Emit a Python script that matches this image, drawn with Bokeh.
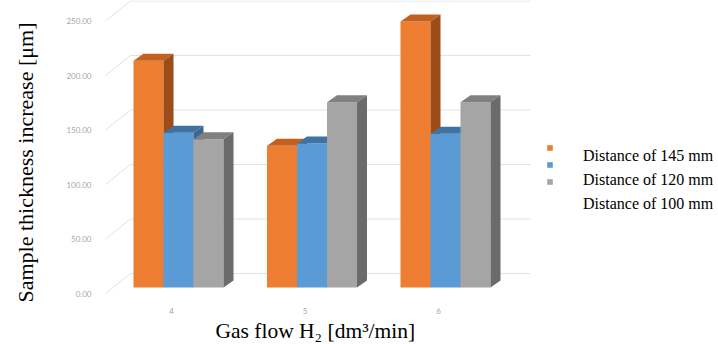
import math
from bokeh.plotting import figure
from bokeh.models import (Range1d, LinearAxis, FixedTicker, PrintfTickFormatter,
                          Legend, LegendItem, Title)
from bokeh.embed import file_html
from bokeh.resources import INLINE

# ---- data ----
categories = [4, 5, 6]
series_names = ["Distance of 145 mm", "Distance of 120 mm", "Distance of 100 mm"]
d145 = [208, 130, 244]
d120 = [142, 132, 141]
d100 = [136, 170, 170]
y_ticks = [0, 50, 100, 150, 200, 250]
series_values = [d145, d120, d100]

# ---- styling ----
front_colors = ["#ED7D31", "#5B9BD5", "#A5A5A5"]
top_colors = ["#C2611F", "#3F73A3", "#808080"]
side_colors = ["#9C4C16", "#3A6891", "#6B6B6B"]

W, H = 718, 344
LEFT, BOTTOM = 100, 48
FW, FH = W - LEFT, H - BOTTOM
PXX = 133.5   # px per category unit
PXY = 1.09    # px per value unit

x0 = 4 - 78 / PXX
y0 = -9 / PXY
p = figure(width=W, height=H, output_backend="svg", toolbar_location=None,
           x_range=Range1d(x0, x0 + FW / PXX), y_range=Range1d(y0, y0 + FH / PXY),
           x_axis_location=None, y_axis_location=None,
           min_border_left=LEFT, min_border_right=0, min_border_top=0,
           min_border_bottom=BOTTOM)
p.outline_line_color = None
p.grid.visible = False

ax0 = 4 - 71 / PXX
ay0 = -3 / PXY
p.extra_x_ranges = {"ax": Range1d(ax0, ax0 + FW / PXX)}
p.extra_y_ranges = {"ax": Range1d(ay0, ay0 + FH / PXY)}

# gridlines (slanted side wall + back wall)
rise = 20 / PXY
xa, xb, xc = x0 + 5 / PXX, x0 + 30 / PXX, x0 + 430 / PXX
p.segment(x0=[xa] * len(y_ticks), y0=y_ticks, x1=[xb] * len(y_ticks),
          y1=[t + rise for t in y_ticks], y_range_name="ax",
          line_color="#e2e2e2", line_width=1)
p.segment(x0=[xb] * len(y_ticks), y0=[t + rise for t in y_ticks],
          x1=[xc] * len(y_ticks), y1=[t + rise for t in y_ticks], y_range_name="ax",
          line_color="#e2e2e2", line_width=1)

# 3D bars
bw = 30 / PXX
dx = 10 / PXX
dy = 7 / PXY
offsets = [-bw, 0, bw]
fronts = []
for i, vals in enumerate(series_values):
    xcs = [c + offsets[i] for c in categories]
    r = p.vbar(x=xcs, top=vals, bottom=0, width=bw,
               fill_color=front_colors[i], line_color=None)
    fronts.append(r)
    txs = [[x - bw / 2, x + bw / 2, x + bw / 2 + dx, x - bw / 2 + dx] for x in xcs]
    tys = [[v, v, v + dy, v + dy] for v in vals]
    p.patches(xs=txs, ys=tys, fill_color=top_colors[i], line_color=None)
    sxs = [[x + bw / 2, x + bw / 2 + dx, x + bw / 2 + dx, x + bw / 2] for x in xcs]
    sys_ = [[0, dy, v + dy, v] for v in vals]
    p.patches(xs=sxs, ys=sys_, fill_color=side_colors[i], line_color=None)

# axes
yaxis = LinearAxis(y_range_name="ax", ticker=FixedTicker(ticks=y_ticks),
                   formatter=PrintfTickFormatter(format="%.2f"),
                   axis_line_color=None, major_tick_line_color=None,
                   minor_tick_line_color=None, major_label_text_font_size="8px",
                   major_label_text_color="#a6a6a6", major_label_text_font="Lato",
                   major_label_standoff=3, axis_label=" ",
                   axis_label_text_font_size="1px", axis_label_standoff=14)
p.add_layout(yaxis, "left")
xaxis = LinearAxis(x_range_name="ax", ticker=FixedTicker(ticks=categories),
                   axis_line_color=None, major_tick_line_color=None,
                   minor_tick_line_color=None, major_label_text_font_size="8px",
                   major_label_text_color="#a6a6a6", major_label_text_font="Lato",
                   major_label_standoff=5)
p.add_layout(xaxis, "below")

# axis titles
p.add_layout(Title(text="Sample thickness increase [μm]", align="left",
                   offset=-6, standoff=15, text_font="Liberation Serif",
                   text_font_size="22px", text_font_style="normal",
                   text_color="#000000"), "left")
p.add_layout(Title(text="Gas flow H₂ [dm³/min]", align="left",
                   offset=115, standoff=0, text_font="Liberation Serif",
                   text_font_size="21.5px", text_font_style="normal",
                   text_color="#000000"), "below")

# legend: squares
leg_sq = Legend(items=[LegendItem(label=" ", renderers=[r]) for r in fronts],
                location=(446, 111), glyph_width=7, glyph_height=7,
                label_height=7, label_text_font_size="1px", spacing=10,
                padding=0, margin=0, border_line_color=None,
                background_fill_alpha=0, label_standoff=0)
p.add_layout(leg_sq)
# legend: texts
leg_tx = Legend(items=[LegendItem(label=n, renderers=[r]) for n, r in zip(series_names, fronts)],
                location=(483, 82), glyph_width=0, glyph_height=21,
                label_height=21, label_text_font="Liberation Serif",
                label_text_font_size="16px", label_text_color="#000000",
                spacing=3, padding=0, margin=0, border_line_color=None,
                background_fill_alpha=0, label_standoff=0)
p.add_layout(leg_tx)

open("out.html", "w").write(file_html(p, INLINE))
